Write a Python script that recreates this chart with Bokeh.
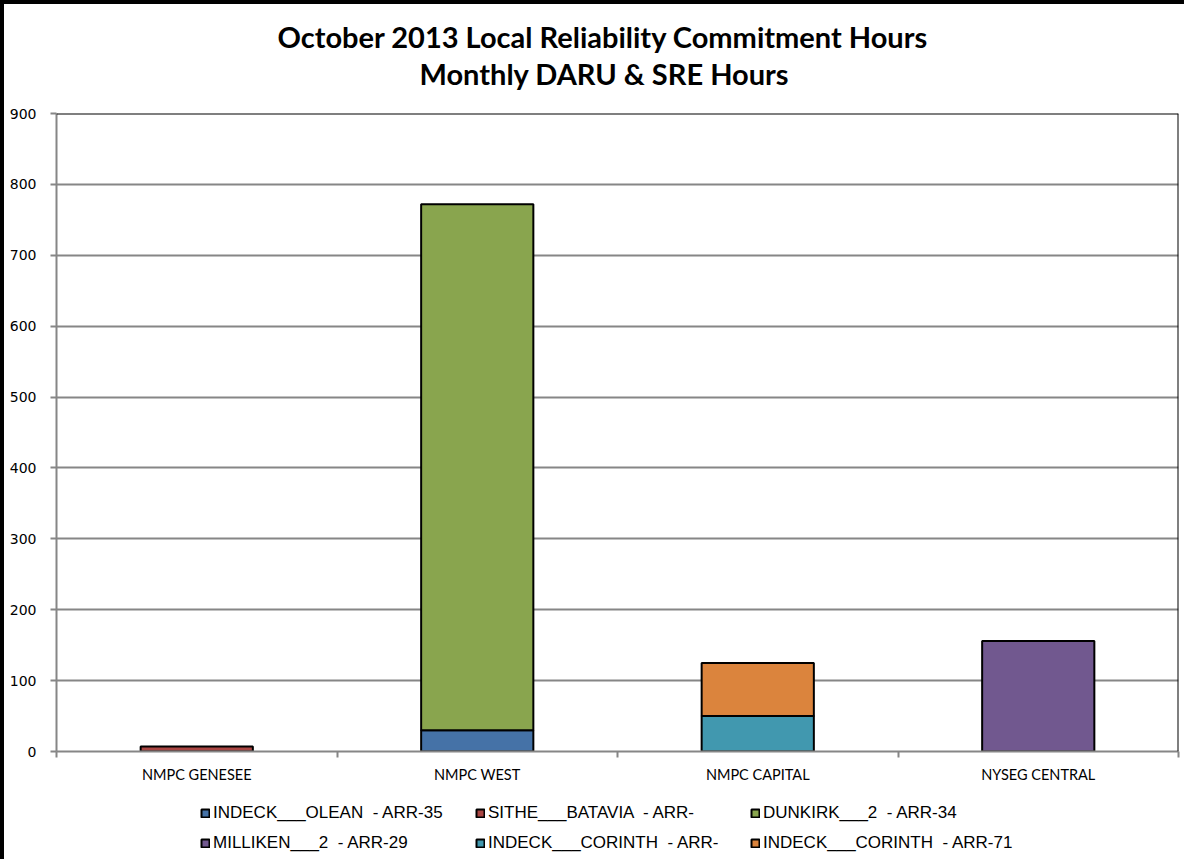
import numpy as np
from bokeh.plotting import figure
from bokeh.layouts import column
from bokeh.models import (ColumnDataSource, FixedTicker, Span, Legend, LegendItem, Title)
from bokeh.embed import file_html
from bokeh.resources import INLINE

# ---------------- data ----------------
categories = ["NMPC GENESEE", "NMPC WEST", "NMPC CAPITAL", "NYSEG CENTRAL"]
series_names = [
    "INDECK___OLEAN  - ARR-35",
    "SITHE___BATAVIA  - ARR-",
    "DUNKIRK___2  - ARR-34",
    "MILLIKEN___2  - ARR-29",
    "INDECK___CORINTH  - ARR-",
    "INDECK___CORINTH  - ARR-71",
]
olean = [0, 30, 0, 0]
sithe = [7, 0, 0, 0]
dunkirk = [0, 742, 0, 0]
milliken = [0, 0, 0, 156]
corinth = [0, 0, 50, 0]
corinth71 = [0, 0, 75, 0]
series_values = [olean, sithe, dunkirk, milliken, corinth, corinth71]
colors = ["#4572A7", "#AA4643", "#89A54E", "#71588F", "#4198AF", "#DB843D"]
y_ticks = [0, 100, 200, 300, 400, 500, 600, 700, 800, 900]
title_line1 = "October 2013 Local Reliability Commitment Hours"
title_line2 = "Monthly DARU & SRE Hours"

# ---------------- main figure ----------------
n = len(categories)
centers = np.arange(n) + 0.5

p = figure(width=1184, height=781, output_backend="svg", toolbar_location=None,
           x_range=(0, n), y_range=(0, 900),
           min_border_left=52, min_border_right=10, min_border_top=109, min_border_bottom=34)
p.styles = {"border-left": "4px solid black", "border-top": "4px solid black"}
p.outline_line_color = None
p.background_fill_color = "white"
p.border_fill_color = "white"

vals = np.array(series_values, dtype=float)
bottoms = np.vstack([np.zeros(n), np.cumsum(vals, axis=0)[:-1]])
tops = bottoms + vals

sources = []
for i, name in enumerate(series_names):
    mask = vals[i] > 0
    src = ColumnDataSource(dict(x=centers[mask], bottom=bottoms[i][mask], top=tops[i][mask]))
    sources.append(src)
    p.vbar(x="x", bottom="bottom", top="top", width=0.4, source=src,
           fill_color=colors[i], line_color="black", line_width=2)

grey = "#868686"
p.yaxis.ticker = FixedTicker(ticks=y_ticks)
p.yaxis.axis_line_color = grey
p.yaxis.axis_line_width = 2
p.yaxis.major_tick_line_color = grey
p.yaxis.major_tick_line_width = 2
p.yaxis.major_tick_out = 6
p.yaxis.major_tick_in = 0
p.yaxis.minor_tick_line_color = None
p.yaxis.major_label_text_font = "DejaVu Sans"
p.yaxis.major_label_text_font_size = "14px"
p.yaxis.major_label_text_color = "black"
p.yaxis.major_label_standoff = 14

p.xaxis.ticker = FixedTicker(ticks=list(centers), minor_ticks=list(range(n + 1)))
p.xaxis.major_label_overrides = {float(c): lab for c, lab in zip(centers, categories)}
p.xaxis.axis_line_color = grey
p.xaxis.axis_line_width = 2
p.xaxis.major_tick_line_color = None
p.xaxis.major_tick_out = 0
p.xaxis.major_tick_in = 0
p.xaxis.minor_tick_line_color = grey
p.xaxis.minor_tick_line_width = 2
p.xaxis.minor_tick_out = 6
p.xaxis.minor_tick_in = 0
p.xaxis.major_label_text_font = "Lato"
p.xaxis.major_label_text_font_size = "14.5px"
p.xaxis.major_label_text_color = "black"
p.xaxis.major_label_standoff = 8

p.xgrid.grid_line_color = None
p.ygrid.grid_line_color = grey
p.ygrid.grid_line_width = 2

# plot area top and right edges
p.add_layout(Span(location=900, dimension="width", line_color="black", line_width=2))
p.add_layout(Span(location=n, dimension="height", line_color="black", line_width=2))

# titles, stacked upward from the plot area
spacer = Title(text=" ", text_font_size="15px", standoff=4)
t2 = Title(text=title_line2, align="left", offset=363, text_font="Lato", text_font_style="bold",
           text_font_size="29px", text_color="black", standoff=0)
t1 = Title(text=title_line1, align="left", offset=221, text_font="Lato", text_font_style="bold",
           text_font_size="29px", text_color="black", standoff=0)
p.add_layout(spacer, "above")
p.add_layout(t2, "above")
p.add_layout(t1, "above")

# ---------------- legend strip ----------------
q = figure(width=1184, height=78, output_backend="svg", toolbar_location=None,
           x_range=(0, n), y_range=(0, 900), x_axis_location=None, y_axis_location=None,
           min_border=0, min_border_left=0, min_border_right=0,
           min_border_top=0, min_border_bottom=0)
q.styles = {"border-left": "4px solid black"}
q.outline_line_color = None
q.grid.visible = False
q.background_fill_color = "white"
q.border_fill_color = "white"

items = []
for i, name in enumerate(series_names):
    # hidden copies of the series: they only supply the legend swatches
    r = q.vbar(x="x", bottom="bottom", top="top", width=0.4, source=sources[i],
               fill_color=colors[i], line_color="black", line_width=2, visible=False)
    items.append(LegendItem(label=name, renderers=[r]))

legend_kw = dict(orientation="horizontal",
                 glyph_width=10, glyph_height=10, label_standoff=3, label_width=252,
                 spacing=10, padding=0, margin=0, border_line_color=None,
                 label_text_font="Liberation Sans", label_text_font_size="17px",
                 label_text_color="black", background_fill_alpha=0, label_height=30)
legend1 = Legend(items=items[:3], location=(144, 31), **legend_kw)
legend2 = Legend(items=items[3:], location=(144, 1), **legend_kw)
q.add_layout(legend1, "center")
q.add_layout(legend2, "center")

layout = column(p, q, spacing=0)
open("out.html", "w").write(file_html(layout, INLINE))
